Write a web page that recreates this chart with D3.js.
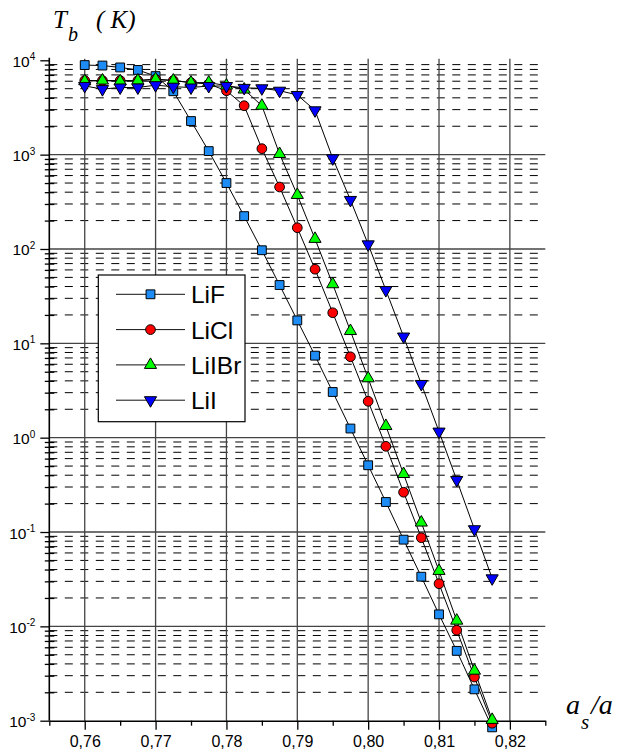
<!DOCTYPE html>
<html>
<head>
<meta charset="utf-8">
<script src="https://cdn.jsdelivr.net/npm/d3@7"></script>
<style>
  body { margin: 0; background: #fff; }
  svg { display: block; }
</style>
</head>
<body>
<svg id="chart" width="620" height="751"></svg>
<script>
// ratio a_s/a for every point
var ratios = [0.76, 0.7625, 0.765, 0.7675, 0.77, 0.7725, 0.775, 0.7775, 0.78, 0.7825, 0.785, 0.7875,
              0.79, 0.7925, 0.795, 0.7975, 0.80, 0.8025, 0.805, 0.8075, 0.81, 0.8125, 0.815, 0.8175];

// T_b (K) per salt
var lif   = [8900, 8800, 8400, 7900, 6800, 4700, 2270, 1090, 500, 223, 97, 41.5,
             17.5, 7.4, 3.05, 1.25, 0.51, 0.208, 0.083, 0.0336, 0.0134, 0.0055, 0.00215, 0.00085];
var licl  = [6100, 6100, 6100, 6100, 6300, 6100, 5800, 5600, 4760, 3300, 1157, 454,
             168, 61, 21.1, 7.2, 2.43, 0.81, 0.264, 0.087, 0.0283, 0.0091, 0.0029, 0.00094];
var liibr = [6000, 6100, 6000, 6100, 6300, 6100, 5800, 5800, 5400, 4900, 3300, 1016,
             374, 128, 42.3, 13.5, 4.26, 1.33, 0.412, 0.126, 0.0387, 0.0115, 0.00339, 0.00102];
var lii   = [5350, 4950, 5150, 5150, 5450, 5250, 5150, 5340, 5340, 5100, 5050, 4760,
             4290, 2950, 914, 331, 112, 36.7, 11.8, 3.71, 1.16, 0.356, 0.107, 0.0323];

var seriesNames = ["LiF", "LiCl", "LiIBr", "LiI"];
var xTicks = [0.76, 0.77, 0.78, 0.79, 0.80, 0.81, 0.82];
var xMinorTicks = [0.755, 0.765, 0.775, 0.785, 0.795, 0.805, 0.815, 0.825];
var yDecades = [-3, -2, -1, 0, 1, 2, 3, 4];

var series = [
  { name: "LiF",   values: lif,   symbol: d3.symbolSquare,   size: 78, rotate: 0,   fill: "#1e8cf5" },
  { name: "LiCl",  values: licl,  symbol: d3.symbolCircle,   size: 74, rotate: 0,   fill: "#ff0000" },
  { name: "LiIBr", values: liibr, symbol: d3.symbolTriangle, size: 64, rotate: 0,   fill: "#00ff00" },
  { name: "LiI",   values: lii,   symbol: d3.symbolTriangle, size: 64, rotate: 180, fill: "#0000ff" }
];

var svg = d3.select("#chart");
var plotLeft = 49.3, plotRight = 545.3, plotTop = 60.3, plotBottom = 720.7;

var x = d3.scaleLinear().domain([0.755, 0.825]).range([plotLeft, plotRight]);
var y = d3.scaleLog().domain([1e-3, 1e4]).range([plotBottom, plotTop]);

// minor grid: dashed lines at 2..9 x each decade
var minorVals = [];
yDecades.slice(0, -1).forEach(function(d) {
  for (var m = 2; m <= 9; m++) minorVals.push(m * Math.pow(10, d));
});
svg.append("g").selectAll("line").data(minorVals).enter().append("line")
  .attr("x1", plotLeft).attr("x2", plotRight)
  .attr("y1", function(d) { return y(d); }).attr("y2", function(d) { return y(d); })
  .attr("stroke", "#000").attr("stroke-width", 1).attr("stroke-dasharray", "8,7.5");

// major grid
var majorVals = yDecades.slice(1, -1).map(function(d) { return Math.pow(10, d); });
svg.append("g").selectAll("line").data(majorVals).enter().append("line")
  .attr("x1", plotLeft).attr("x2", plotRight)
  .attr("y1", function(d) { return y(d); }).attr("y2", function(d) { return y(d); })
  .attr("stroke", "#444").attr("stroke-width", 1.3);

svg.append("g").selectAll("line").data(xTicks).enter().append("line")
  .attr("x1", function(d) { return x(d); }).attr("x2", function(d) { return x(d); })
  .attr("y1", plotTop - 1.5).attr("y2", plotBottom)
  .attr("stroke", "#444").attr("stroke-width", 1.3);

// bottom axis
var fmt = function(d) { return d3.format(".2f")(d).replace(".", ","); };
var xAxis = svg.append("g").attr("transform", "translate(0," + plotBottom + ")")
  .call(d3.axisBottom(x).tickValues(xTicks).tickFormat(fmt).tickSize(9).tickPadding(5.5).tickSizeOuter(0));
xAxis.select(".domain").attr("stroke-width", 1.6);
xAxis.selectAll(".tick line").attr("stroke-width", 1.3);
xAxis.selectAll("text").attr("font-family", "Arial, 'Liberation Sans', sans-serif").attr("font-size", 16).attr("fill", "#000");

svg.append("g").attr("transform", "translate(0," + plotBottom + ")")
  .call(d3.axisBottom(x).tickValues(xMinorTicks).tickFormat("").tickSize(5).tickSizeOuter(0))
  .call(function(g) { g.select(".domain").remove(); g.selectAll("line").attr("stroke-width", 1.3); });

// left axis
var yAxis = svg.append("g").attr("transform", "translate(" + plotLeft + ",0)")
  .call(d3.axisLeft(y).tickValues(yDecades.map(function(d) { return Math.pow(10, d); }))
    .tickFormat("").tickSize(9).tickSizeOuter(0));
yAxis.select(".domain").attr("d", "M0," + (plotTop - 2.5) + "V" + plotBottom).attr("stroke-width", 1.6);
yAxis.selectAll(".tick line").attr("stroke-width", 1.3);
yAxis.selectAll(".tick").each(function(d) {
  var t = d3.select(this).append("text").attr("x", -14).attr("dy", 6)
    .attr("text-anchor", "end").attr("fill", "#000")
    .attr("font-family", "Arial, 'Liberation Sans', sans-serif").attr("font-size", 15.5);
  t.append("tspan").text("10");
  t.append("tspan").attr("font-size", 10).attr("dy", -6.5).text(Math.round(Math.log10(d)));
});
svg.append("g").attr("transform", "translate(" + plotLeft + ",0)")
  .call(d3.axisLeft(y).tickValues(minorVals).tickFormat("").tickSize(5).tickSizeOuter(0))
  .call(function(g) {
    g.select(".domain").remove();
    g.selectAll("line").attr("x2", -4.5).attr("x1", 5).attr("stroke-width", 1.3);
  });

// series lines and markers
var line = d3.line()
  .x(function(d, i) { return x(ratios[i]); })
  .y(function(d) { return y(d); });

series.forEach(function(s) {
  svg.append("path").datum(s.values)
    .attr("d", line).attr("fill", "none").attr("stroke", "#000").attr("stroke-width", 1);
});
series.forEach(function(s) {
  svg.append("g").selectAll("path").data(s.values).enter().append("path")
    .attr("d", d3.symbol().type(s.symbol).size(s.size))
    .attr("transform", function(d, i) {
      return "translate(" + x(ratios[i]) + "," + y(d) + ") rotate(" + s.rotate + ")";
    })
    .attr("fill", s.fill).attr("stroke", "#000").attr("stroke-width", 1);
});

// legend
var legend = svg.append("g").attr("transform", "translate(98.3,275)");
legend.append("rect").attr("width", 146.7).attr("height", 146.7)
  .attr("fill", "#fff").attr("stroke", "#000").attr("stroke-width", 1.2);
series.forEach(function(s, i) {
  var row = legend.append("g").attr("transform", "translate(0," + (19.3 + i * 35.3) + ")");
  row.append("line").attr("x1", 17.7).attr("x2", 86.7).attr("stroke", "#111").attr("stroke-width", 1);
  row.append("path").attr("d", d3.symbol().type(s.symbol).size(s.size))
    .attr("transform", "translate(52.2,0) rotate(" + s.rotate + ")")
    .attr("fill", s.fill).attr("stroke", "#000").attr("stroke-width", 1);
  row.append("text").attr("x", 92.7).attr("y", 9).text(seriesNames[i])
    .attr("font-family", "Arial, 'Liberation Sans', sans-serif").attr("font-size", 24.5);
});

// axis titles
var serif = "'Times New Roman', 'Liberation Serif', serif";
var yt = svg.append("text").attr("font-family", serif).attr("font-style", "italic").attr("font-size", 25);
yt.append("tspan").attr("x", 53).attr("y", 28).text("T");
yt.append("tspan").attr("x", 68).attr("y", 41).attr("font-size", 20).text("b");
yt.append("tspan").attr("x", 96).attr("y", 28).attr("xml:space", "preserve").text("( K)");

var xt = svg.append("text").attr("font-family", serif).attr("font-style", "italic").attr("font-size", 28);
xt.append("tspan").attr("x", 566).attr("y", 714).text("a");
xt.append("tspan").attr("x", 581).attr("y", 729).attr("font-size", 21).text("s");
xt.append("tspan").attr("x", 591).attr("y", 714).text("/a");
</script>
</body>
</html>
